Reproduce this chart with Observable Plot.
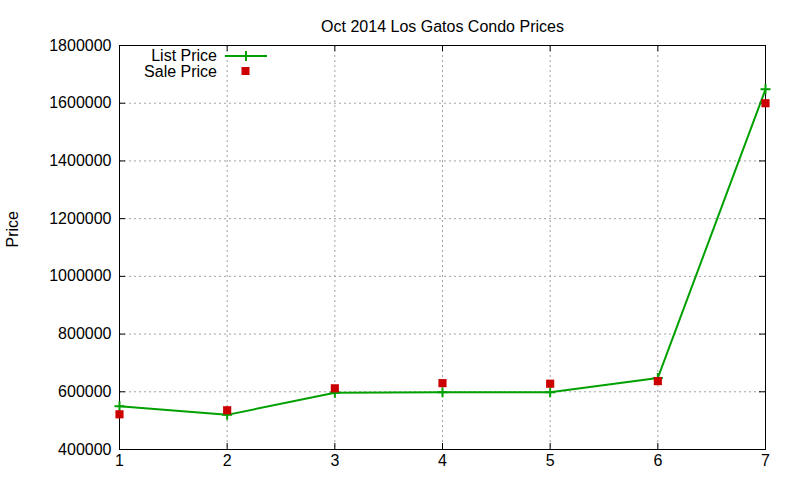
<!DOCTYPE html>
<html>
<head>
<meta charset="utf-8">
<script src="https://cdn.jsdelivr.net/npm/d3@7"></script>
<script src="https://cdn.jsdelivr.net/npm/@observablehq/plot@0.6"></script>
<style>
  body { margin: 0; background: #fff; }
  #wrap { position: relative; width: 800px; height: 480px; font-family: "Liberation Sans", Arial, sans-serif; }
  #legend { position: absolute; left: 0; top: 0; pointer-events: none; }
</style>
</head>
<body>
<div id="wrap"></div>
<script>
const title = "Oct 2014 Los Gatos Condo Prices";
const yLabel = "Price";
const seriesNames = ["List Price", "Sale Price"];
const xs = [1, 2, 3, 4, 5, 6, 7];
const listPrice = [550000, 520000, 597000, 598000, 598000, 648000, 1648000];
const salePrice = [522000, 536000, 612000, 630000, 628000, 637000, 1600000];
const xTicks = [1, 2, 3, 4, 5, 6, 7];
const yTicks = [400000, 600000, 800000, 1000000, 1200000, 1400000, 1600000, 1800000];

const green = "#00a000";
const red = "#cc0000";
const FS = 16;

const rows = xs.map((x, i) => ({x, list: listPrice[i], sale: salePrice[i]}));

const plusSymbol = {
  draw(ctx, size) {
    const r = Math.sqrt(size / Math.PI);
    ctx.moveTo(-r, 0); ctx.lineTo(r, 0);
    ctx.moveTo(0, -r); ctx.lineTo(0, r);
  }
};

const W = 800, H = 480, ML = 119, MR = 35, MT = 45, MB = 31;
const FW = W - ML - MR, FH = H - MT - MB, TK = 6;

const chart = Plot.plot({
  width: W, height: H,
  marginLeft: ML, marginRight: MR, marginTop: MT, marginBottom: MB,
  style: {fontFamily: "'Liberation Sans', Arial, sans-serif", fontSize: FS + "px", color: "#000", background: "#fff", overflow: "visible"},
  x: {domain: [1, 7]},
  y: {domain: [400000, 1800000]},
  marks: [
    Plot.gridX(xTicks, {stroke: "#a0a0a0", strokeOpacity: 1, strokeDasharray: "2,3"}),
    Plot.gridY(yTicks, {stroke: "#a0a0a0", strokeOpacity: 1, strokeDasharray: "2,3"}),
    Plot.tickY(yTicks, {y: d => d, insetRight: FW - TK, stroke: "#000"}),
    Plot.tickY(yTicks, {y: d => d, insetLeft: FW - TK, stroke: "#000"}),
    Plot.tickX(xTicks, {x: d => d, insetTop: FH - TK, stroke: "#000"}),
    Plot.tickX(xTicks, {x: d => d, insetBottom: FH - TK, stroke: "#000"}),
    Plot.axisY(yTicks, {anchor: "left", tickSize: 0, tickPadding: 8, tickFormat: d => String(d), label: null, fontSize: FS}),
    Plot.axisX(xTicks, {anchor: "bottom", tickSize: 0, tickPadding: 5, tickFormat: d => String(d), label: null, fontSize: FS}),
    Plot.frame({stroke: "#000", strokeWidth: 1}),
    Plot.line(rows, {x: "x", y: "list", stroke: green, strokeWidth: 2}),
    Plot.dot(rows, {x: "x", y: "list", symbol: plusSymbol, r: 5, stroke: green, strokeWidth: 2, fill: "none"}),
    Plot.dot(rows, {x: "x", y: "sale", symbol: "square", r: 4.6, fill: red, stroke: "none"}),
    Plot.text([title], {frameAnchor: "top", dy: -25, fontSize: FS, fill: "#000"}),
    Plot.text([yLabel], {frameAnchor: "left", dx: -107, rotate: -90, fontSize: FS, fill: "#000"})
  ]
});

const wrap = document.getElementById("wrap");
wrap.appendChild(chart);

// Legend (top-left inside the plot frame)
const ns = "http://www.w3.org/2000/svg";
const lg = document.createElementNS(ns, "svg");
lg.setAttribute("id", "legend");
lg.setAttribute("width", W);
lg.setAttribute("height", 100);
const mk = (tag, attrs) => { const e = document.createElementNS(ns, tag); for (const k in attrs) e.setAttribute(k, attrs[k]); return e; };
const rowsY = [55.5, 71];
seriesNames.forEach((name, i) => {
  const t = mk("text", {x: 217, y: rowsY[i], "text-anchor": "end", "dominant-baseline": "central", "font-size": FS, "font-family": "'Liberation Sans', Arial, sans-serif", fill: "#000"});
  t.textContent = name;
  lg.appendChild(t);
});
lg.appendChild(mk("line", {x1: 225, x2: 267, y1: 56, y2: 56, stroke: green, "stroke-width": 2}));
lg.appendChild(mk("path", {d: "M241,56h10M246,51v10", stroke: green, "stroke-width": 2, fill: "none"}));
lg.appendChild(mk("rect", {x: 241.5, y: 67, width: 8, height: 8, fill: red}));
wrap.appendChild(lg);
</script>
</body>
</html>
